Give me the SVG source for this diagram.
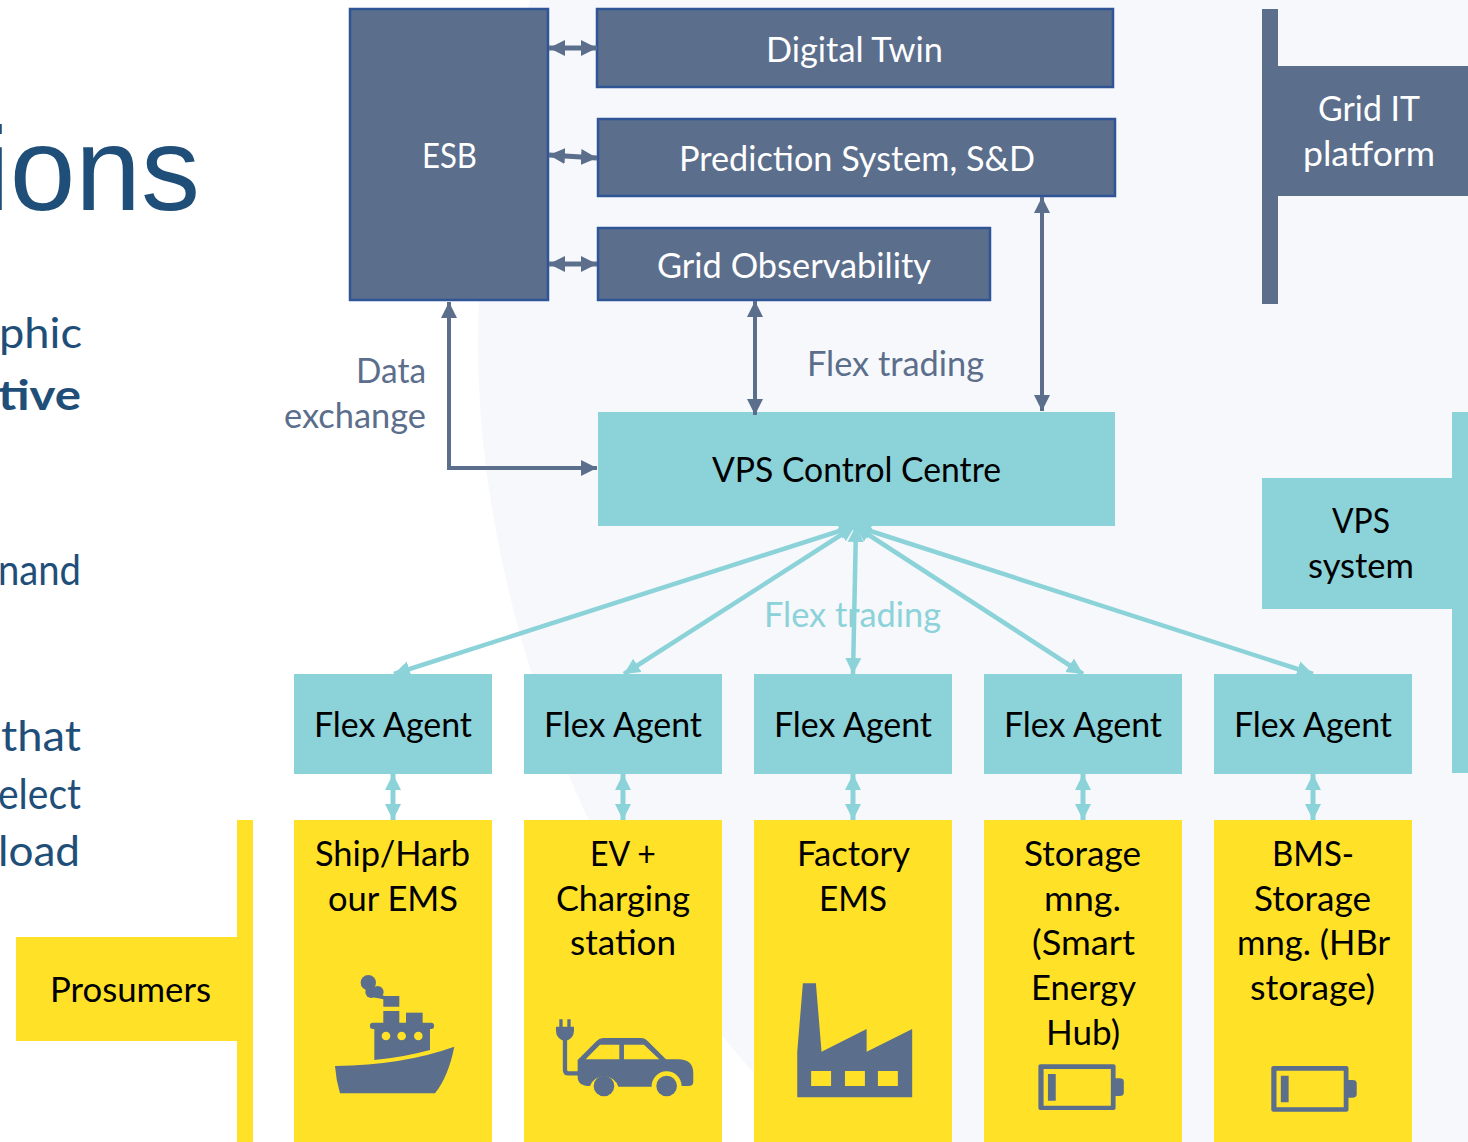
<svg xmlns="http://www.w3.org/2000/svg" width="1468" height="1142" viewBox="0 0 1468 1142">
<style>
text{font-family:"Lato","Carlito","Liberation Sans",sans-serif;font-size:34px;fill:#000}
.w{fill:#fff}.s{fill:#5b6e8c}.t{fill:#8bd2d9}.b{fill:#1f4e79}
.navy{fill:#5b6e8c;stroke:#2f5597;stroke-width:2.5}
.sl{fill:#5b6e8c}.tl{fill:#8bd2d9}.ye{fill:#ffe228}
.c1{fill:none;stroke:#5b6e8c;stroke-width:4;marker-start:url(#hs);marker-end:url(#hs)}
.c2{fill:none;stroke:#8bd2d9;stroke-width:4.5;marker-start:url(#ht);marker-end:url(#ht)}
.short{stroke-width:5}
</style>
<defs>
<marker id="hs" markerUnits="userSpaceOnUse" markerWidth="18" markerHeight="18" refX="16" refY="9" orient="auto-start-reverse"><path d="M0 1L16 9L0 17Z" fill="#5b6e8c"/></marker>
<marker id="ht" markerUnits="userSpaceOnUse" markerWidth="18" markerHeight="18" refX="16" refY="9" orient="auto-start-reverse"><path d="M0 1L16 9L0 17Z" fill="#8bd2d9"/></marker>
<g id="batt"><path fill-rule="evenodd" d="M688 318Q688 313 693 313H861Q866 313 866 318V445Q866 450 861 450H693Q688 450 688 445ZM700 327V437H855V327ZM866 355H875Q885 355 885 365V398Q885 408 875 408H866ZM710 342H728V422H710Z" class="sl"/></g>
</defs>
<rect width="1468" height="1142" fill="#fff"/>
<path d="M530 0C497 105 478 235 478 345C478 560 560 860 760 1080L820 1142H1468V0Z" fill="#f7f8fb"/>
<g id="left-text" class="b">
<text x="200" y="210" text-anchor="end" class="b" style="font-family:'Liberation Sans',sans-serif;font-size:118px">ions</text>
<text x="-1" y="348" class="b" textLength="83" lengthAdjust="spacingAndGlyphs" style="font-size:42px">phic</text>
<text x="-2" y="410" class="b" textLength="83" lengthAdjust="spacingAndGlyphs" style="font-size:42px;font-weight:700">tive</text>
<text x="-2" y="585" class="b" textLength="83" lengthAdjust="spacingAndGlyphs" style="font-size:42px">nand</text>
<text x="1" y="751" class="b" textLength="80" lengthAdjust="spacingAndGlyphs" style="font-size:42px">that</text>
<text x="-2" y="809" class="b" textLength="83" lengthAdjust="spacingAndGlyphs" style="font-size:42px">elect</text>
<text x="-2" y="866" class="b" textLength="82" lengthAdjust="spacingAndGlyphs" style="font-size:42px">load</text>
</g>
<g id="esb"><rect class="navy" x="350" y="9" width="198" height="291"/><text class="w" x="422" y="168" textLength="55" lengthAdjust="spacingAndGlyphs">ESB</text></g>
<g id="digital-twin"><rect class="navy" x="597" y="9" width="516" height="78"/><text class="w" x="766" y="62" textLength="177" lengthAdjust="spacingAndGlyphs">Digital Twin</text></g>
<g id="prediction"><rect class="navy" x="598" y="119" width="517" height="77"/><text class="w" x="679" y="171" textLength="356" lengthAdjust="spacingAndGlyphs">Prediction System, S&amp;D</text></g>
<g id="grid-obs"><rect class="navy" x="598" y="228" width="392" height="72"/><text class="w" x="657" y="278" textLength="274" lengthAdjust="spacingAndGlyphs">Grid Observability</text></g>
<g id="grid-it"><rect class="sl" x="1262" y="9" width="16" height="295"/><rect class="sl" x="1278" y="66" width="190" height="130"/>
<text class="w" x="1318" y="121" textLength="102" lengthAdjust="spacingAndGlyphs">Grid IT</text><text class="w" x="1303" y="166" textLength="132" lengthAdjust="spacingAndGlyphs">platform</text></g>
<g id="vps-cc"><rect class="tl" x="598" y="412" width="517" height="114"/><text x="712" y="482" textLength="289" lengthAdjust="spacingAndGlyphs">VPS Control Centre</text></g>
<g id="vps-system"><rect class="tl" x="1452" y="412" width="16" height="361"/><rect class="tl" x="1262" y="478" width="190" height="131"/>
<text x="1332" y="533" textLength="58" lengthAdjust="spacingAndGlyphs">VPS</text><text x="1308" y="578" textLength="106" lengthAdjust="spacingAndGlyphs">system</text></g>
<g id="labels">
<text class="s" x="356" y="383" textLength="70" lengthAdjust="spacingAndGlyphs">Data</text>
<text class="s" x="284" y="428" textLength="142" lengthAdjust="spacingAndGlyphs">exchange</text>
<text class="s" x="807" y="376" textLength="177" lengthAdjust="spacingAndGlyphs">Flex trading</text>
<text class="t" x="764" y="627" textLength="177" lengthAdjust="spacingAndGlyphs">Flex trading</text>
</g>
<g id="connectors">
<path class="c1 short" d="M549 48H597"/><path class="c1 short" d="M549 155L597 158"/><path class="c1 short" d="M549 264H597"/>
<path class="c1" d="M449 302V468H597"/><path class="c1" d="M755 301V415"/><path class="c1" d="M1042 197V411"/>
<path class="c2" d="M855 526L394 674"/><path class="c2" d="M855 526L624 674"/><path class="c2" d="M856 526L853 674"/><path class="c2" d="M855 526L1083 674"/><path class="c2" d="M855 526L1313 674"/>
<path class="c2 short" d="M393 774V820"/><path class="c2 short" d="M623 774V820"/><path class="c2 short" d="M853 774V820"/><path class="c2 short" d="M1083 774V820"/><path class="c2 short" d="M1313 774V820"/>
</g>
<g id="fa1"><rect class="tl" x="294" y="674" width="198" height="100"/><text x="314" y="737" textLength="158" lengthAdjust="spacingAndGlyphs">Flex Agent</text></g>
<g id="fa2"><rect class="tl" x="524" y="674" width="198" height="100"/><text x="544" y="737" textLength="158" lengthAdjust="spacingAndGlyphs">Flex Agent</text></g>
<g id="fa3"><rect class="tl" x="754" y="674" width="198" height="100"/><text x="774" y="737" textLength="158" lengthAdjust="spacingAndGlyphs">Flex Agent</text></g>
<g id="fa4"><rect class="tl" x="984" y="674" width="198" height="100"/><text x="1004" y="737" textLength="158" lengthAdjust="spacingAndGlyphs">Flex Agent</text></g>
<g id="fa5"><rect class="tl" x="1214" y="674" width="198" height="100"/><text x="1234" y="737" textLength="158" lengthAdjust="spacingAndGlyphs">Flex Agent</text></g>
<g id="prosumers"><rect class="ye" x="237" y="820" width="16" height="322"/><rect class="ye" x="16" y="937" width="221" height="104"/><text x="50" y="1002" textLength="161" lengthAdjust="spacingAndGlyphs">Prosumers</text></g>
<g id="ship"><rect class="ye" x="294" y="820" width="198" height="322"/>
<text x="315" y="866" textLength="155" lengthAdjust="spacingAndGlyphs">Ship/Harb</text><text x="328" y="911" textLength="130" lengthAdjust="spacingAndGlyphs">our EMS</text>
<g transform="translate(280 960) scale(.3333)" class="sl">
<circle cx="265" cy="68" r="23"/><circle cx="274" cy="96" r="18"/><circle cx="293" cy="96" r="18"/><path d="M285 100L315 108H358V140H310V118L280 112Z"/>
<rect x="310" y="153" width="48" height="40"/><rect x="378" y="158" width="50" height="35"/><rect x="270" y="188" width="192" height="19" rx="8"/>
<path d="M283 205H450V270Q370 292 283 300Z"/><path d="M165 318Q370 315 523 260Q505 350 465 400H180Q168 360 165 318Z"/>
<g class="ye"><circle cx="318" cy="228" r="13"/><circle cx="365" cy="228" r="13"/><circle cx="415" cy="228" r="13"/></g></g></g>
<g id="ev"><rect class="ye" x="524" y="820" width="198" height="322"/>
<text x="590" y="866" textLength="66" lengthAdjust="spacingAndGlyphs">EV +</text><text x="556" y="911" textLength="134" lengthAdjust="spacingAndGlyphs">Charging</text><text x="570" y="955" textLength="106" lengthAdjust="spacingAndGlyphs">station</text>
<g transform="translate(280 960) scale(.3333)" class="sl">
<path d="M838 178h10v22h-10zM862 178h10v22h-10zM828 200h54v12a27 30 0 0 1-54 0z"/><path d="M855 235V330Q855 340 865 340H895" fill="none" stroke="#5b6e8c" stroke-width="13"/>
<path d="M893 300L950 243Q958 234 970 234H1085Q1095 234 1103 243L1158 298H1195Q1240 298 1240 340V365Q1240 378 1225 378H1205A45 45 0 0 0 1115 380H1015A45 45 0 0 0 930 378Q893 378 893 350Z"/>
<path class="ye" d="M917 298L960 254H1018V298ZM1032 254H1092L1138 298H1032Z"/><circle cx="972" cy="378" r="31"/><circle cx="1160" cy="378" r="31"/></g></g>
<g id="factory"><rect class="ye" x="754" y="820" width="198" height="322"/>
<text x="797" y="866" textLength="113" lengthAdjust="spacingAndGlyphs">Factory</text><text x="819" y="911" textLength="68" lengthAdjust="spacingAndGlyphs">EMS</text>
<path class="sl" fill-rule="evenodd" transform="translate(740 960) scale(.4337 .3333)" d="M145 70H175L188 275L292 207V275L397 207V412H132V275ZM164 333V378H210V333ZM242 333V378H288V333ZM318 333V378H364V333Z"/></g>
<g id="storage"><rect class="ye" x="984" y="820" width="198" height="322"/>
<text x="1024" y="866" textLength="117" lengthAdjust="spacingAndGlyphs">Storage</text><text x="1044" y="911" textLength="77" lengthAdjust="spacingAndGlyphs">mng.</text><text x="1032" y="955" textLength="103" lengthAdjust="spacingAndGlyphs">(Smart</text><text x="1031" y="1000" textLength="105" lengthAdjust="spacingAndGlyphs">Energy</text><text x="1046" y="1045" textLength="74" lengthAdjust="spacingAndGlyphs">Hub)</text>
<use href="#batt" transform="translate(740 960) scale(.4337 .3333)"/></g>
<g id="bms"><rect class="ye" x="1214" y="820" width="198" height="322"/>
<text x="1272" y="866" textLength="82" lengthAdjust="spacingAndGlyphs">BMS-</text><text x="1254" y="911" textLength="117" lengthAdjust="spacingAndGlyphs">Storage</text><text x="1237" y="955" textLength="153" lengthAdjust="spacingAndGlyphs">mng. (HBr</text><text x="1250" y="1000" textLength="125" lengthAdjust="spacingAndGlyphs">storage)</text>
<use href="#batt" transform="translate(740 960) scale(.4337 .3333) translate(537 5)"/></g>
</svg>
